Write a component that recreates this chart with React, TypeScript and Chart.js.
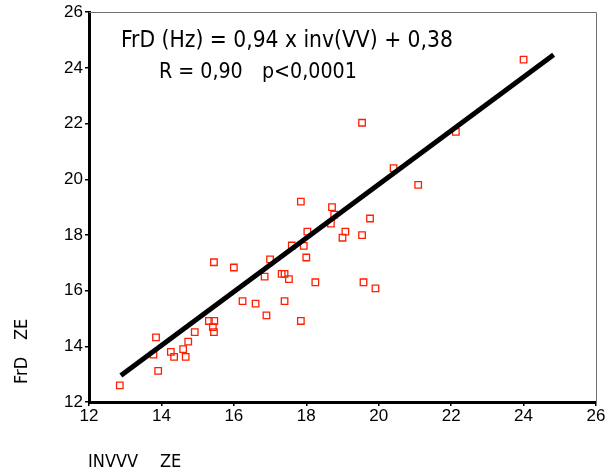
import React, { useEffect, useRef } from 'react';
import { Chart, registerables } from 'chart.js';

Chart.register(...registerables);

// inv(VV) (x) and FrD (y) values
const INV_VV = [
  12.85, 13.85, 13.78, 13.91, 14.26, 14.35, 14.6, 14.67, 14.74, 14.92,
  15.31, 15.46, 15.42, 15.45, 15.45, 16.0, 16.24, 16.6, 16.9, 16.85,
  17.0, 17.32, 17.4, 17.52, 17.4, 17.6, 17.93, 18.0, 17.85, 18.03,
  18.25, 17.85, 18.71, 18.77, 18.68, 19.0, 19.08, 19.54, 19.76, 19.54,
  19.58, 19.91, 20.41, 21.09, 22.13, 24.0,
];
const FRD = [
  12.6, 14.32, 13.7, 13.12, 13.8, 13.62, 13.9, 13.62, 14.17, 14.51,
  14.91, 14.91, 14.69, 14.51, 17.02, 16.83, 15.62, 15.53, 15.11, 16.5,
  17.12, 16.6, 16.6, 16.41, 15.62, 17.62, 17.61, 17.19, 19.2, 18.12,
  16.3, 14.91, 19.0, 18.73, 18.41, 17.9, 18.12, 17.99, 18.59, 22.03,
  16.3, 16.08, 20.4, 19.8, 21.7, 24.3,
];

// regression line endpoints as drawn
const FIT_X = [12.88, 24.83];
const FIT_Y = [12.95, 24.47];

// axis ranges
const X_RANGE = [12, 26];
const Y_RANGE = [12, 26];
const TICK_STEP = 2;

// texts
const EQUATION = 'FrD (Hz) = 0,94 x inv(VV) + 0,38';
const R_TEXT = 'R = 0,90';
const P_TEXT = 'p<0,0001';
const X_TITLE = ['INVVV', 'ZE'];
const Y_TITLE = ['FrD', 'ZE'];

const TEXT_FONT = '"DejaVu Sans Condensed", "DejaVu Sans", sans-serif';
const TICK_FONT = '"Liberation Sans", Arial, sans-serif';

const decor = {
  id: 'decor',
  afterDraw(chart: any) {
    const { ctx, chartArea: a } = chart;
    ctx.save();
    // thin top and right frame
    ctx.strokeStyle = '#707070';
    ctx.lineWidth = 1;
    ctx.beginPath();
    ctx.moveTo(a.left, Math.round(a.top) + 0.5);
    ctx.lineTo(Math.round(a.right) + 0.5, Math.round(a.top) + 0.5);
    ctx.lineTo(Math.round(a.right) + 0.5, a.bottom);
    ctx.stroke();

    ctx.fillStyle = '#000';
    ctx.textBaseline = 'middle';
    ctx.textAlign = 'left';
    ctx.font = `22.6px ${TEXT_FONT}`;
    ctx.fillText(EQUATION, 121, 41);
    ctx.font = `21.2px ${TEXT_FONT}`;
    ctx.fillText(R_TEXT, 159, 72);
    ctx.fillText(P_TEXT, 262, 72);

    // axis titles
    ctx.font = `18px ${TEXT_FONT}`;
    ctx.fillText(X_TITLE[0], 88, 462);
    ctx.fillText(X_TITLE[1], 160, 462);

    ctx.save();
    ctx.translate(22, 384);
    ctx.rotate(-Math.PI / 2);
    ctx.fillText(Y_TITLE[0], 0, 0);
    ctx.fillText(Y_TITLE[1], 44, 0);
    ctx.restore();

    ctx.restore();
  },
};

export default function App() {
  const ref = useRef<HTMLCanvasElement>(null);

  useEffect(() => {
    if (!ref.current) return;
    const axis = (range: number[], pad: number, fitFn: (s: any) => void) => ({
      type: 'linear' as const,
      min: range[0],
      max: range[1],
      afterFit: fitFn,
      ticks: {
        stepSize: TICK_STEP,
        color: '#000',
        padding: pad,
        font: { family: TICK_FONT, size: 17 },
      },
      grid: {
        display: true,
        drawOnChartArea: false,
        drawTicks: true,
        tickLength: 4,
        color: '#000',
        lineWidth: 1.5,
      },
      border: { display: true, color: '#000', width: 3 },
    });

    const chart = new Chart(ref.current, {
      type: 'scatter',
      data: {
        datasets: [
          {
            type: 'line',
            data: FIT_X.map((x, i) => ({ x, y: FIT_Y[i] })),
            borderColor: '#000',
            borderWidth: 5,
            pointRadius: 0,
            showLine: true,
            fill: false,
            order: 0,
          } as any,
          {
            type: 'scatter',
            data: INV_VV.map((x, i) => ({ x, y: FRD[i] })),
            pointStyle: 'rect',
            pointRadius: 4.6,
            borderWidth: 1.3,
            borderColor: 'rgb(255,30,0)',
            backgroundColor: 'rgba(255,255,255,0)',
            order: 1,
          } as any,
        ],
      },
      options: {
        responsive: false,
        animation: false,
        layout: { padding: { top: 10, right: 14, left: 0, bottom: 0 } },
        plugins: {
          legend: { display: false },
          tooltip: { enabled: false },
        },
        scales: {
          x: axis(X_RANGE, 0, (s: any) => { s.height = 73; }),
          y: axis(Y_RANGE, 2, (s: any) => { s.width = 89; }),
        },
      },
      plugins: [decor],
    });
    return () => chart.destroy();
  }, []);

  return (
    <div style={{ position: 'absolute', left: 0, top: 0, width: 610, height: 475, background: '#fff' }}>
      <canvas ref={ref} width={610} height={475} style={{ display: 'block' }} />
    </div>
  );
}
